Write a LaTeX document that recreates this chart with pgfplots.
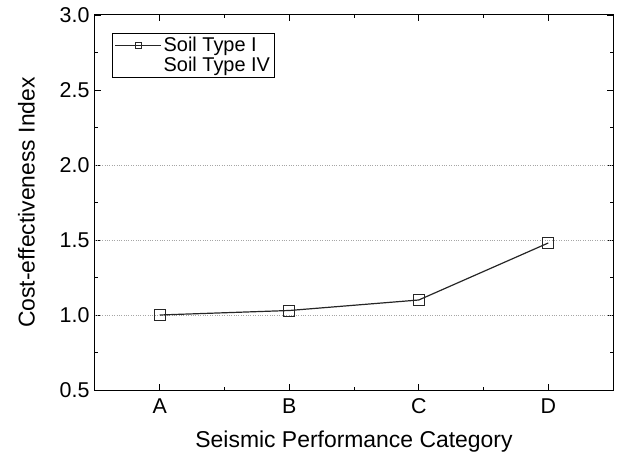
\documentclass[border=0pt]{standalone}
\usepackage{fontspec}
\setmainfont{Liberation Sans}
\usepackage{pgfplots}
\pgfplotsset{compat=1.18}
\begin{document}
\begin{tikzpicture}
\begin{axis}[
  scale only axis,
  width=518bp, height=375bp,
  xmin=-0.5, xmax=3.5,
  ymin=0.5, ymax=3.0,
  xtick={0,1,2,3},
  xticklabels={A,B,C,D},
  minor x tick num=1,
  ytick={0.5,1.0,1.5,2.0,2.5,3.0},
  minor y tick num=1,
  tick align=inside,
  major tick length=6bp,
  minor tick length=3.5bp,
  tick style={black, line width=0.9bp},
  axis line style={black, line width=1bp},
  /pgf/number format/assume math mode=true,
  yticklabel style={xshift=-2bp, /pgf/number format/fixed, /pgf/number format/fixed zerofill, /pgf/number format/precision=1},
  ticklabel style={font=\fontsize{21.5}{24}\selectfont},
  xticklabel style={yshift=-5bp},
  xlabel={Seismic Performance Category},
  ylabel={Cost-effectiveness Index},
  label style={font=\fontsize{23}{26}\selectfont},
  xlabel style={yshift=-10bp},
  ylabel style={yshift=18bp},
  extra y ticks={1.0,1.5,2.0},
  extra y tick labels={},
  extra y tick style={grid=major, major tick length=0pt, major grid style={gray!70, dotted, line width=0.8bp}},
  legend style={at={(axis description cs:0.033,0.952)}, anchor=north west,
    draw=black, line width=0.8bp, font=\fontsize{20}{22}\selectfont,
    row sep=0bp, inner sep=2bp, cells={anchor=west}},
  legend image code/.code={\draw[mark repeat=2,mark phase=2,mark size=3bp] plot coordinates {(0bp,0bp) (23bp,0bp) (46bp,0bp)};},
]
\coordinate (O) at (rel axis cs:0,0);
\addplot[black!85, line width=1.2bp, mark=square, mark size=5.5bp, mark options={solid, line width=0.9bp, fill=white}]
  coordinates {(0,1.00) (1,1.03) (2,1.10) (3,1.48)};
\addlegendentry{Soil Type I}
\addlegendimage{white, mark=none}
\addlegendentry{Soil Type IV}
\end{axis}
\pgfresetboundingbox
\path (O) ++(-95bp,-71bp) rectangle ++(626bp,461bp);
\end{tikzpicture}
\end{document}
